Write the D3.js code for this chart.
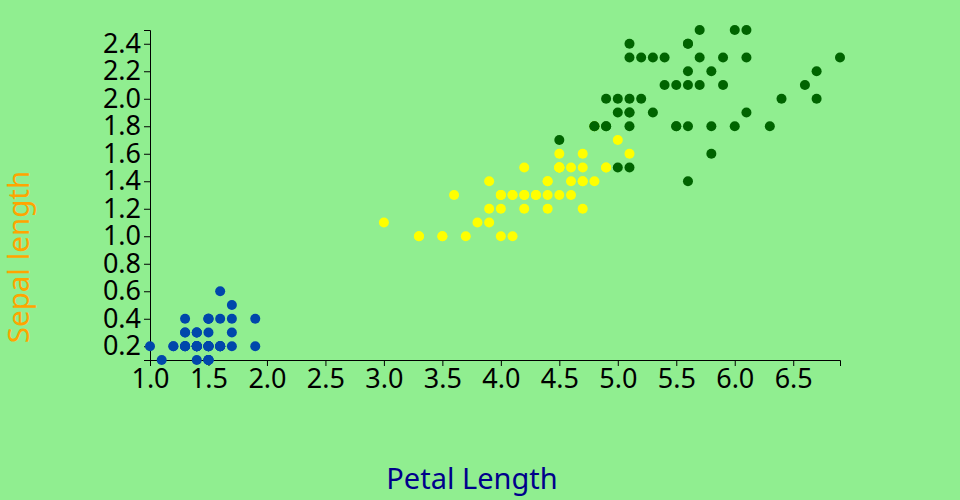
<!DOCTYPE html>
<html>
<head>
<meta charset="utf-8">
<script src="https://cdn.jsdelivr.net/npm/d3@7"></script>
<style>
  html, body { margin: 0; padding: 0; background: #90ee90; }
  svg { display: block; font-family: "Noto Sans", sans-serif; }
</style>
</head>
<body>
<svg id="chart" width="960" height="500"></svg>
<script>
// Iris petal length / width by species
const setosaLength = [1.4,1.4,1.3,1.5,1.4,1.7,1.4,1.5,1.4,1.5,1.5,1.6,1.4,1.1,1.2,1.5,1.3,1.4,1.7,1.5,1.7,1.5,1.0,1.7,1.9,1.6,1.6,1.5,1.4,1.6,1.6,1.5,1.5,1.4,1.5,1.2,1.3,1.5,1.3,1.5,1.3,1.3,1.3,1.6,1.9,1.4,1.6,1.4,1.5,1.4];
const setosaWidth  = [0.2,0.2,0.2,0.2,0.2,0.4,0.3,0.2,0.2,0.1,0.2,0.2,0.1,0.1,0.2,0.4,0.4,0.3,0.3,0.3,0.2,0.4,0.2,0.5,0.2,0.2,0.4,0.2,0.2,0.2,0.2,0.4,0.1,0.2,0.1,0.2,0.2,0.1,0.2,0.2,0.3,0.3,0.2,0.6,0.4,0.3,0.2,0.2,0.2,0.2];
const versicolorLength = [4.7,4.5,4.9,4.0,4.6,4.5,4.7,3.3,4.6,3.9,3.5,4.2,4.0,4.7,3.6,4.4,4.5,4.1,4.5,3.9,4.8,4.0,4.9,4.7,4.3,4.4,4.8,5.0,4.5,3.5,3.8,3.7,3.9,5.1,4.5,4.5,4.7,4.4,4.1,4.0,4.4,4.6,4.0,3.3,4.2,4.2,4.2,4.3,3.0,4.1];
const versicolorWidth  = [1.4,1.5,1.5,1.3,1.5,1.3,1.6,1.0,1.3,1.4,1.0,1.5,1.0,1.4,1.3,1.4,1.5,1.0,1.5,1.1,1.8,1.3,1.5,1.2,1.3,1.4,1.4,1.7,1.5,1.0,1.1,1.0,1.2,1.6,1.5,1.6,1.5,1.3,1.3,1.3,1.2,1.4,1.2,1.0,1.3,1.2,1.3,1.3,1.1,1.3];
const virginicaLength = [6.0,5.1,5.9,5.6,5.8,6.6,4.5,6.3,5.8,6.1,5.1,5.3,5.5,5.0,5.1,5.3,5.5,6.7,6.9,5.0,5.7,4.9,6.7,4.9,5.7,6.0,4.8,4.9,5.6,5.8,6.1,6.4,5.6,5.1,5.6,6.1,5.6,5.5,4.8,5.4,5.6,5.1,5.1,5.9,5.7,5.2,5.0,5.2,5.4,5.1];
const virginicaWidth  = [2.5,1.9,2.1,1.8,2.2,2.1,1.7,1.8,1.8,2.5,2.0,1.9,2.1,2.0,2.4,2.3,1.8,2.2,2.3,1.5,2.3,2.0,2.0,1.8,2.1,1.8,1.8,1.8,2.1,1.6,1.9,2.0,2.2,1.5,1.4,2.3,2.4,1.8,1.8,2.1,2.4,2.3,1.9,2.3,2.5,2.3,1.9,2.0,2.3,1.8];

const speciesNames  = ["setosa", "versicolor", "virginica"];
const speciesColors = ["#0047ab", "#ffff00", "#006400"];
const xLabel = "Petal Length";
const yLabel = "Sepal length";

const groups = [
  { name: speciesNames[0], color: speciesColors[0], xs: setosaLength, ys: setosaWidth },
  { name: speciesNames[1], color: speciesColors[1], xs: versicolorLength, ys: versicolorWidth },
  { name: speciesNames[2], color: speciesColors[2], xs: virginicaLength, ys: virginicaWidth }
];
const points = [];
groups.forEach(g => g.xs.forEach((v, i) => points.push({ x: v, y: g.ys[i], color: g.color })));

const margin = { top: 30, left: 150 };
const width = 690, height = 330;

const svg = d3.select("#chart");
const g = svg.append("g").attr("transform", `translate(${margin.left},${margin.top})`);

const x = d3.scaleLinear().domain(d3.extent(points, d => d.x)).range([0, width]);
const y = d3.scaleLinear().domain(d3.extent(points, d => d.y)).range([height, 0]);

const xAxis = g.append("g").attr("transform", `translate(0,${height})`)
  .call(d3.axisBottom(x).tickFormat(d3.format(".1f")));
const yAxis = g.append("g").call(d3.axisLeft(y).tickFormat(d3.format(".1f")));

[xAxis, yAxis].forEach(a => {
  a.selectAll("text").style("font-size", "27px").attr("fill", "#000").style("font-family", "Noto Sans");
  a.attr("font-family", null).attr("font-size", null);
});

g.selectAll("circle").data(points).enter().append("circle")
  .attr("cx", d => x(d.x))
  .attr("cy", d => y(d.y))
  .attr("r", 5)
  .attr("fill", d => d.color);

svg.append("text")
  .attr("x", 472).attr("y", 489)
  .attr("text-anchor", "middle")
  .attr("fill", "#00008b")
  .style("font-size", "29px")
  .text(xLabel);

svg.append("text")
  .attr("transform", "translate(29,257) rotate(-90)")
  .attr("text-anchor", "middle")
  .attr("fill", "#ffa500")
  .style("font-size", "29.5px")
  .text(yLabel);
</script>
</body>
</html>
